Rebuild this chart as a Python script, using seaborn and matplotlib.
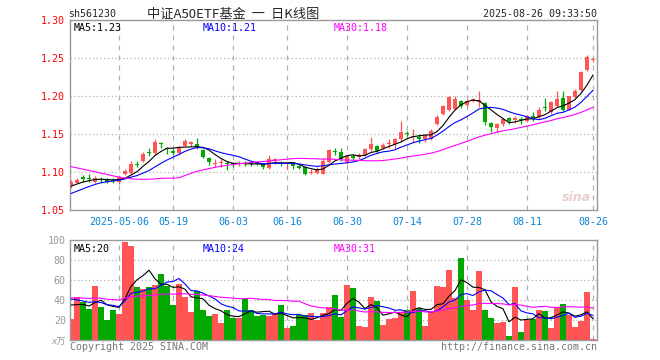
import numpy as np
import pandas as pd
import seaborn as sns
import matplotlib
matplotlib.use('Agg')
import matplotlib.pyplot as plt

# daily K of sh561230, 2025-04-21 .. 2025-08-26 (88 trading days)
opens = [1.083, 1.086, 1.093, 1.0925, 1.087, 1.091, 1.090, 1.0895, 1.0865, 1.0975,
         1.099, 1.1105, 1.115, 1.126, 1.1245, 1.1385, 1.131, 1.128, 1.1245, 1.1345,
         1.137, 1.137, 1.129, 1.119, 1.1105, 1.1115, 1.112, 1.1115, 1.1105, 1.112,
         1.1125, 1.1125, 1.110, 1.1055, 1.114, 1.112, 1.110, 1.110, 1.108, 1.106,
         1.099, 1.099, 1.098, 1.1135, 1.128, 1.1265, 1.113, 1.121, 1.120, 1.1225,
         1.130, 1.1345, 1.131, 1.1365, 1.1375, 1.143, 1.1515, 1.1465, 1.1465, 1.143,
         1.144, 1.1635, 1.1765, 1.181, 1.1835, 1.1935, 1.188, 1.194, 1.1917, 1.1908,
         1.1645, 1.1575, 1.1632, 1.1706, 1.1684, 1.1697, 1.1675, 1.1732, 1.1719, 1.1851,
         1.1794, 1.1873, 1.1969, 1.182, 1.1982, 1.2083, 1.2346, 1.2478]
highs = [1.090, 1.092, 1.096, 1.097, 1.095, 1.093, 1.092, 1.092, 1.095, 1.104,
         1.115, 1.114, 1.126, 1.131, 1.144, 1.140, 1.133, 1.130, 1.1345, 1.144,
         1.141, 1.1445, 1.130, 1.120, 1.1165, 1.1165, 1.114, 1.1125, 1.1145, 1.115,
         1.115, 1.114, 1.112, 1.122, 1.119, 1.114, 1.113, 1.1115, 1.110, 1.107,
         1.1035, 1.106, 1.119, 1.130, 1.131, 1.131, 1.1225, 1.124, 1.1245, 1.132,
         1.146, 1.136, 1.138, 1.143, 1.145, 1.167, 1.154, 1.156, 1.150, 1.1505,
         1.156, 1.1745, 1.1885, 1.200, 1.200, 1.1945, 1.1947, 1.198, 1.207, 1.1925,
         1.1662, 1.164, 1.1706, 1.1719, 1.1732, 1.1719, 1.175, 1.1794, 1.1851, 1.1969,
         1.1939, 1.207, 1.207, 1.2005, 1.2092, 1.2333, 1.2539, 1.2496]
lows = [1.079, 1.085, 1.087, 1.087, 1.086, 1.086, 1.0855, 1.0855, 1.084, 1.096,
        1.0975, 1.106, 1.1135, 1.1215, 1.122, 1.131, 1.124, 1.1225, 1.1225, 1.134,
        1.1345, 1.130, 1.118, 1.109, 1.1065, 1.1065, 1.103, 1.1065, 1.1075, 1.108,
        1.108, 1.109, 1.1035, 1.1045, 1.1105, 1.108, 1.1045, 1.1035, 1.1035, 1.096,
        1.097, 1.0975, 1.0975, 1.112, 1.1225, 1.115, 1.111, 1.116, 1.1175, 1.121,
        1.128, 1.1255, 1.130, 1.131, 1.130, 1.140, 1.147, 1.1395, 1.1385, 1.140,
        1.142, 1.162, 1.1755, 1.180, 1.181, 1.1845, 1.185, 1.1917, 1.185, 1.1618,
        1.1531, 1.1522, 1.1601, 1.1632, 1.1645, 1.1632, 1.1654, 1.1675, 1.1697, 1.1807,
        1.1763, 1.1851, 1.1807, 1.181, 1.1969, 1.207, 1.2333, 1.2443]
closes = [1.087, 1.089, 1.091, 1.091, 1.0925, 1.089, 1.087, 1.0885, 1.093, 1.101,
          1.1105, 1.109, 1.124, 1.125, 1.140, 1.137, 1.130, 1.1245, 1.131, 1.141,
          1.139, 1.131, 1.120, 1.113, 1.112, 1.113, 1.1105, 1.109, 1.112, 1.1105,
          1.111, 1.111, 1.106, 1.1165, 1.1165, 1.110, 1.1115, 1.108, 1.105, 1.0975,
          1.100, 1.1035, 1.114, 1.129, 1.1265, 1.1175, 1.121, 1.119, 1.122, 1.130,
          1.137, 1.128, 1.1355, 1.138, 1.144, 1.152, 1.150, 1.148, 1.144, 1.149,
          1.1535, 1.172, 1.187, 1.1985, 1.1965, 1.1875, 1.194, 1.196, 1.1947, 1.1654,
          1.1588, 1.1632, 1.1697, 1.1675, 1.1706, 1.1684, 1.1732, 1.1697, 1.182, 1.1838,
          1.1917, 1.1961, 1.182, 1.1996, 1.207, 1.232, 1.2509, 1.2487]
volumes = [21, 43, 38, 31, 54, 33, 20, 30, 26, 98,
           94, 53, 51, 53, 55, 66, 54, 35, 56, 43,
           28, 49, 30, 24, 26, 17, 30, 22, 22, 41,
           30, 24, 25, 24, 26, 35, 12, 14, 25, 25,
           27, 20, 27, 33, 45, 23, 55, 52, 14, 13,
           43, 39, 15, 21, 22, 28, 30, 49, 32, 14,
           28, 54, 53, 70, 42, 82, 40, 30, 69, 30,
           22, 17, 18, 4, 53, 8, 20, 21, 30, 29,
           12, 33, 36, 25, 13, 19, 48, 1]

# the 29 sessions before the window (only feed the moving averages)
prev_closes = [1.138, 1.142, 1.145, 1.140, 1.143, 1.139, 1.142, 1.144, 1.140,
               1.135, 1.130, 1.126, 1.122, 1.124, 1.121, 1.122, 1.121,
               1.118, 1.052, 1.050,
               1.058, 1.060, 1.062, 1.064, 1.066,
               1.075, 1.078, 1.082, 1.085]
prev_volumes = [40, 45, 38, 44, 41, 47, 39, 43, 42, 46, 40, 44, 41, 43, 45, 39, 42, 44, 41, 46,
                52, 49, 45, 46, 43, 41, 37, 39, 37]

tick_pos = [8, 17, 27, 36, 46, 56, 66, 76, 87]
tick_labels = ['2025-05-06', '05-19', '06-03', '06-16', '06-30', '07-14', '07-28', '08-11', '08-26']

RED = '#ff5555'
GREEN = '#00a800'
GRID = '#b0b0b0'
W, H = 660, 360

sns.set_style('white')
plt.rcParams['font.family'] = ['DejaVu Sans Mono', 'Noto Sans CJK SC']

n = len(closes)
x = np.arange(n)
o = np.array(opens); c = np.array(closes)
up = c >= o
colors = np.where(up, RED, GREEN)

allc = pd.Series(prev_closes + closes)
allv = pd.Series(prev_volumes + volumes, dtype=float)
k = len(prev_closes)
df = pd.DataFrame({'x': x})
for p in (5, 10, 30):
    df['ma%d' % p] = allc.rolling(p).mean().iloc[k:].values
    df['vma%d' % p] = allv.rolling(p).mean().iloc[k:].values

fig = plt.figure(figsize=(6.6, 3.6), dpi=100)
ax = fig.add_axes([70 / W, 150 / H, 527 / W, 190 / H])
axv = fig.add_axes([70 / W, 20 / H, 527 / W, 100 / H])

for a in (ax, axv):
    a.set_xlim(-0.17, 87.67)
    for s in a.spines.values():
        s.set_color('#999999')
        s.set_linewidth(1)
    for t in tick_pos:
        a.axvline(t, color=GRID, lw=0.9, ls=(0, (4, 4)), zorder=0)

# price panel
ax.set_ylim(1.05, 1.30)
for yv in [1.10, 1.15, 1.20, 1.25]:
    ax.axhline(yv, color=GRID, lw=0.9, ls=(0, (1, 2)), zorder=0)
body = np.maximum(np.abs(c - o), 0.0008)
ax.vlines(x, lows, highs, colors=colors, lw=0.9, zorder=2)
ax.bar(x, body, bottom=np.minimum(o, c), width=0.78, color=colors, lw=0, zorder=3)
sns.lineplot(data=df, x='x', y='ma5', ax=ax, color='black', lw=0.8, zorder=4)
sns.lineplot(data=df, x='x', y='ma10', ax=ax, color='#0000ff', lw=0.8, zorder=4)
sns.lineplot(data=df, x='x', y='ma30', ax=ax, color='#ff00ff', lw=0.8, zorder=4)
ax.set_yticks([1.05, 1.10, 1.15, 1.20, 1.25, 1.30])
ax.set_yticklabels(['%.2f' % v for v in [1.05, 1.10, 1.15, 1.20, 1.25, 1.30]])
ax.set_xticks(tick_pos)
ax.set_xticklabels(tick_labels)
ax.tick_params(axis='y', length=0, pad=4, labelsize=7.2, labelcolor='#ff0000')
ax.tick_params(axis='x', length=0, pad=5, labelsize=7.2, labelcolor='#0a84d6')
ax.set_xlabel('')
ax.set_ylabel('')

# volume panel
axv.set_ylim(0, 100)
for yv in [20, 40, 60, 80]:
    axv.axhline(yv, color=GRID, lw=0.9, ls=(0, (1, 2)), zorder=0)
axv.bar(x, volumes, width=0.85, color=colors, lw=0, zorder=2)
sns.lineplot(data=df, x='x', y='vma5', ax=axv, color='black', lw=0.8, zorder=4)
sns.lineplot(data=df, x='x', y='vma10', ax=axv, color='#0000ff', lw=0.8, zorder=4)
sns.lineplot(data=df, x='x', y='vma30', ax=axv, color='#ff00ff', lw=0.8, zorder=4)
axv.set_yticks([20, 40, 60, 80, 100])
axv.set_xticks([])
axv.tick_params(axis='y', length=0, pad=3, labelsize=7.2, labelcolor='#999999')
axv.set_xlabel('')
axv.set_ylabel('')

def ftext(px, py, s, **kw):
    fig.text(px / W, 1 - py / H, s, **kw)

ftext(68, 14, 'sh561230', fontsize=7.2, va='center', ha='left')
ftext(233, 14, '中证A50ETF基金  一  日K线图', fontsize=9.5, va='center', ha='center',
      family=['Noto Sans CJK SC', 'DejaVu Sans'])
ftext(597, 14, '2025-08-26 09:33:50', fontsize=7.2, va='center', ha='right')

ftext(74, 28, 'MA5:1.23', fontsize=7.2, va='center', color='black')
ftext(203, 28, 'MA10:1.21', fontsize=7.2, va='center', color='#0000ff')
ftext(334, 28, 'MA30:1.18', fontsize=7.2, va='center', color='#ff00ff')

ftext(74, 249, 'MA5:20', fontsize=7.2, va='center', color='black')
ftext(203, 249, 'MA10:24', fontsize=7.2, va='center', color='#0000ff')
ftext(334, 249, 'MA30:31', fontsize=7.2, va='center', color='#ff00ff')

ftext(66, 342, 'x万', fontsize=6.5, va='center', ha='right', color='#999999', style='italic')
ftext(70, 347, 'Copyright 2025 SINA.COM', fontsize=7.2, va='center', ha='left', color='#777777')
ftext(597, 347, 'http://finance.sina.com.cn', fontsize=7.2, va='center', ha='right', color='#777777')
ftext(576, 197, 'sina', fontsize=9, va='center', ha='center', color='#e8c0c0',
      weight='bold', style='italic', family='DejaVu Sans', alpha=0.8)

fig.savefig('out.png', dpi=100)
